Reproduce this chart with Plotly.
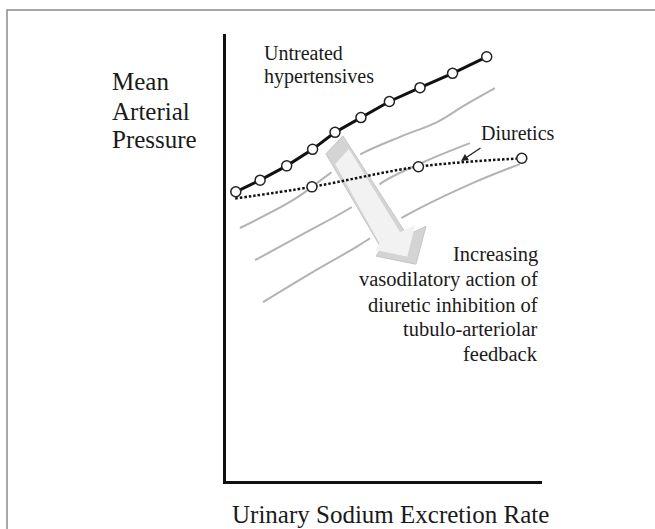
import plotly.graph_objects as go

# ---------------- data (arbitrary units: x = urinary Na excretion, y = MAP) ----
untreated_x = [0.31, 1.08, 1.92, 2.74, 3.45, 4.27, 5.17, 6.14, 7.17, 8.25]
untreated_y = [6.47, 6.73, 7.05, 7.42, 7.80, 8.13, 8.49, 8.80, 9.12, 9.49]

diuretics_x = [0.29, 2.72, 6.09, 9.36]
diuretics_y = [6.32, 6.58, 7.03, 7.22]
diuretics_marker_visible = [0, 1, 1, 1]

curve1_x = [0.44, 2.18, 3.45, 4.34, 5.51, 6.68, 7.56, 8.51]
curve1_y = [5.66, 6.31, 6.96, 7.34, 7.70, 8.03, 8.41, 8.79]
curve2_x = [0.92, 2.50, 4.18, 4.97, 6.46, 7.72]
curve2_y = [4.94, 5.55, 6.22, 6.69, 7.20, 7.56]
curve3_x = [1.17, 2.69, 4.18, 5.67, 7.82, 9.30]
curve3_y = [4.00, 4.65, 5.26, 5.93, 6.67, 7.09]

# big illustrative arrow (data units)
arrow_x = [3.16, 3.70, 5.73, 6.33, 6.01, 4.75, 4.91, 3.16]
arrow_y = [7.32, 7.72, 5.50, 5.70, 4.85, 5.03, 5.21, 7.32]

x_range = [0, 10]
y_range = [0, 10]

label_lines_y = ["Mean", "Arterial", "Pressure"]
label_x = "Urinary Sodium Excretion Rate"
label_untreated = ["Untreated", "hypertensives"]
label_diuretics = "Diuretics"
label_note = ["Increasing", "vasodilatory action of", "diuretic inhibition of",
              "tubulo-arteriolar", "feedback"]

# ---------------- layout geometry (pixels) ----------------
W, H = 655, 529
L, R, T, B = 226, 542, 34, 481
FONT = "Liberation Serif"
TXT = "#1a1a1a"


def pxp(xp):
    return (xp - L) / (R - L)


def pyp(yp):
    return (B - yp) / (B - T)


fig = go.Figure()

gray = "#b3b3b3"
for cx, cy in [(curve1_x, curve1_y), (curve2_x, curve2_y), (curve3_x, curve3_y)]:
    fig.add_trace(go.Scatter(x=cx, y=cy, mode="lines",
                             line=dict(color=gray, width=2, shape="spline"),
                             hoverinfo="skip", showlegend=False))

# arrow: white halo, darker body, lighter inner face
fig.add_trace(go.Scatter(x=arrow_x, y=arrow_y, mode="lines", fill="toself",
                         fillcolor="#d4d4d4", line=dict(color="white", width=9),
                         hoverinfo="skip", showlegend=False))
fig.add_trace(go.Scatter(x=arrow_x, y=arrow_y, mode="lines", fill="toself",
                         fillcolor="#d4d4d4", line=dict(color="#c6c6c6", width=1),
                         hoverinfo="skip", showlegend=False))
cxm = sum(arrow_x[:-1]) / (len(arrow_x) - 1)
cym = sum(arrow_y[:-1]) / (len(arrow_y) - 1)
inner_x = [cxm + 0.80 * (v - cxm) - 0.06 for v in arrow_x]
inner_y = [cym + 0.84 * (v - cym) for v in arrow_y]
fig.add_trace(go.Scatter(x=inner_x, y=inner_y, mode="lines", fill="toself",
                         fillcolor="#f2f2f2", line=dict(color="#f2f2f2", width=0),
                         hoverinfo="skip", showlegend=False))

# diuretics dotted curve
fig.add_trace(go.Scatter(x=diuretics_x, y=diuretics_y, mode="lines+markers",
                         line=dict(color="#111", width=2.5, dash="2.5px,2px", shape="spline"),
                         marker=dict(symbol="circle", size=10, color="white",
                                     opacity=diuretics_marker_visible,
                                     line=dict(color="#222", width=1.5)),
                         hoverinfo="skip", showlegend=False))

# untreated hypertensives
fig.add_trace(go.Scatter(x=untreated_x, y=untreated_y, mode="lines+markers",
                         line=dict(color="#111", width=3),
                         marker=dict(symbol="circle", size=10, color="white",
                                     line=dict(color="#222", width=1.5)),
                         hoverinfo="skip", showlegend=False))

ann = []


def add_text(text, xp, yc, size, anchor="left"):
    ann.append(dict(text=text, x=pxp(xp), y=pyp(yc), xref="paper", yref="paper",
                    xanchor=anchor, yanchor="middle", showarrow=False,
                    font=dict(family=FONT, size=size, color=TXT)))


for t, yc in zip(label_lines_y, [81.6, 111.6, 139.6]):
    add_text(t, 110, yc, 25)
add_text(label_x, 390, 514.5, 25, "center")
for t, yc in zip(label_untreated, [53.3, 76.3]):
    add_text(t, 262, yc, 20)
add_text(label_diuretics, 479, 133.3, 20)
for t, yc in zip(label_note, [254.5, 279.8, 305.0, 328.7, 354.0]):
    add_text(t, 540, yc, 20.5, "right")

# pointer arrow from "Diuretics" label to the dotted curve
ann.append(dict(text="", x=pxp(461), y=pyp(161), xref="paper", yref="paper",
                showarrow=True, ax=21, ay=-14, arrowhead=2, arrowsize=1.1,
                arrowwidth=1.3, arrowcolor="#222"))

fig.update_layout(
    width=W, height=H,
    margin=dict(l=L, r=W - R, t=T, b=H - B, pad=0),
    paper_bgcolor="white", plot_bgcolor="white",
    annotations=ann,
    shapes=[dict(type="rect", xref="paper", yref="paper",
                 x0=pxp(7), x1=pxp(670), y0=pyp(10), y1=pyp(545),
                 line=dict(color="#8a8a8a", width=1.5), layer="below")],
    xaxis=dict(range=x_range, showgrid=False, zeroline=False, showticklabels=False,
               ticks="", showline=True, linecolor="#111", linewidth=3),
    yaxis=dict(range=y_range, showgrid=False, zeroline=False, showticklabels=False,
               ticks="", showline=True, linecolor="#111", linewidth=3),
)

fig.write_html("out.html", config={"displayModeBar": False},
               post_script="document.body.style.margin='0';document.body.style.overflow='hidden';")
